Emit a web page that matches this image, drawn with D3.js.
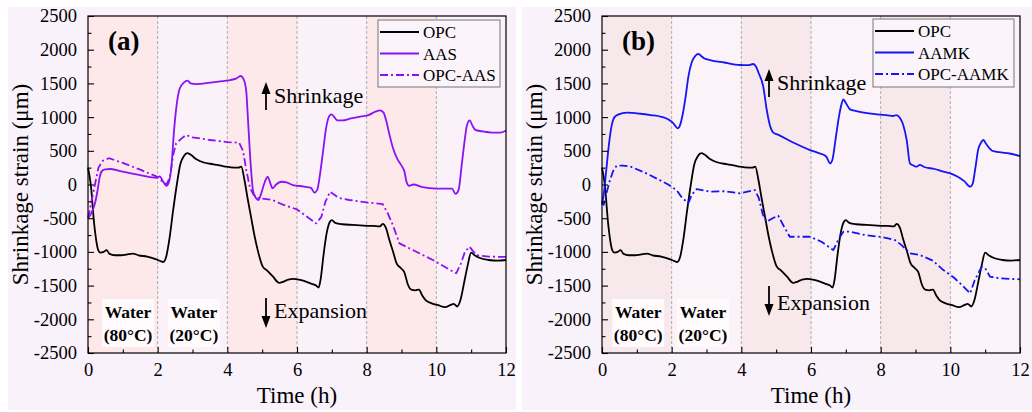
<!DOCTYPE html>
<html><head><meta charset="utf-8">
<script src="https://cdn.jsdelivr.net/npm/d3@7"></script>
<style>
html,body{margin:0;padding:0;background:#ffffff;}
svg{display:block;font-family:"Liberation Serif","Times New Roman",serif;}
</style></head>
<body><svg id="chart" width="1032" height="412"></svg>
<script>
// ---------- data ----------
const xTicks = [0, 2, 4, 6, 8, 10, 12];
const yTicks = [-2500, -2000, -1500, -1000, -500, 0, 500, 1000, 1500, 2000, 2500];
const bandStarts = [0, 2, 4, 6, 8, 10];

const opcT = [0,0.08,0.18,0.3,0.36,0.45,0.53,0.62,0.77,0.95,1.1,1.29,1.45,1.7,1.96,2.1,2.16,2.24,2.34,2.44,2.55,2.65,2.75,2.85,2.95,3.1,3.3,3.6,3.9,4.2,4.32,4.4,4.49,4.58,4.68,4.78,4.87,5.01,5.15,5.3,5.49,5.62,5.75,5.9,6.05,6.2,6.4,6.55,6.62,6.68,6.76,6.86,6.95,7.0,7.1,7.3,7.6,7.9,8.2,8.38,8.46,8.55,8.65,8.76,8.86,8.98,9.08,9.18,9.28,9.4,9.5,9.6,9.7,9.85,10.05,10.25,10.4,10.5,10.6,10.7,10.8,10.9,11.0,11.1,11.25,11.5,11.75,12.0];
const opcV = [250,0,-600,-980,-1010,-1000,-975,-1030,-1050,-1050,-1040,-1025,-1050,-1070,-1110,-1140,-1150,-1080,-800,-400,0,300,420,465,440,380,330,300,270,250,250,265,70,-200,-480,-760,-970,-1210,-1280,-1360,-1460,-1440,-1410,-1400,-1410,-1430,-1470,-1500,-1530,-1400,-1050,-700,-550,-530,-570,-590,-600,-610,-615,-620,-585,-640,-820,-1000,-1170,-1240,-1300,-1480,-1560,-1570,-1560,-1650,-1720,-1760,-1790,-1820,-1790,-1770,-1810,-1700,-1450,-1200,-1010,-1050,-1090,-1120,-1130,-1120];

const aasT = [0,0.1,0.2,0.27,0.34,0.42,0.5,0.65,1.0,1.5,1.96,2.06,2.16,2.25,2.32,2.4,2.47,2.55,2.63,2.75,2.86,2.95,3.1,3.5,3.96,4.25,4.38,4.46,4.54,4.6,4.67,4.74,4.82,4.89,4.98,5.05,5.16,5.22,5.3,5.4,5.55,5.7,5.88,6.2,6.4,6.5,6.58,6.66,6.75,6.84,6.92,6.99,7.07,7.16,7.3,7.55,7.85,8.05,8.25,8.38,8.48,8.56,8.65,8.75,8.88,9.0,9.08,9.15,9.22,9.34,9.6,10.0,10.45,10.55,10.64,10.72,10.8,10.88,10.96,11.04,11.12,11.3,11.6,11.85,12.0];
const aasV = [-500,-420,-280,-100,120,210,225,230,190,140,100,120,40,-20,30,300,800,1200,1420,1510,1540,1500,1490,1510,1540,1570,1610,1570,1400,900,300,-100,-200,-230,-120,0,115,40,-57,0,41,30,-8,-30,-50,-120,-80,150,500,850,1010,1040,1000,950,950,980,1010,1030,1080,1100,1070,950,750,550,380,280,200,30,-20,0,-40,-60,-60,-140,-80,250,600,880,950,870,810,790,770,770,800];

const opcAasT = [0,0.08,0.2,0.3,0.42,0.6,1.0,1.5,1.96,2.1,2.25,2.35,2.45,2.53,2.68,2.81,3.0,3.5,4.0,4.34,4.45,4.55,4.65,4.75,4.87,5.3,5.6,6.0,6.55,6.7,6.82,6.95,7.2,7.5,8.0,8.46,8.6,8.75,8.94,9.9,10.57,10.7,10.82,10.95,11.15,11.5,12.0];
const opcAasV = [-500,-300,0,250,350,390,320,220,120,60,0,100,450,611,680,734,700,660,630,620,500,200,-50,-150,-200,-230,-300,-370,-577,-480,-250,-107,-200,-230,-265,-290,-420,-600,-873,-1120,-1318,-1180,-1000,-923,-1047,-1070,-1075];

const aamkT = [0,0.06,0.12,0.2,0.28,0.36,0.48,0.71,1.1,1.4,1.7,1.92,2.05,2.17,2.24,2.32,2.4,2.48,2.58,2.68,2.77,2.86,2.94,3.1,3.5,3.96,4.2,4.34,4.42,4.5,4.63,4.73,4.82,4.92,5.05,5.5,5.97,6.2,6.43,6.55,6.62,6.7,6.8,6.88,6.93,7.0,7.12,7.3,7.6,7.9,8.2,8.36,8.45,8.55,8.65,8.75,8.84,8.95,9.03,9.12,9.25,9.55,9.8,10.0,10.2,10.4,10.57,10.64,10.72,10.8,10.88,10.95,11.03,11.2,11.4,11.7,12.0];
const aamkV = [-300,-100,200,600,880,1000,1040,1065,1050,1030,1005,960,908,833,880,1050,1300,1600,1820,1910,1936,1900,1870,1847,1810,1773,1770,1788,1750,1650,1451,1105,880,770,740,620,511,470,420,314,380,650,1000,1200,1264,1210,1115,1090,1060,1040,1025,1016,1030,990,880,650,314,280,264,290,260,230,190,165,120,50,-33,10,250,520,620,660,600,501,480,460,422];

const opcAamkT = [0,0.05,0.12,0.22,0.32,0.42,0.6,0.8,1.3,1.9,2.14,2.3,2.48,2.58,2.72,3.1,3.5,3.96,4.39,4.5,4.62,4.73,4.9,5.06,5.22,5.39,5.97,6.3,6.64,6.8,6.93,7.1,7.55,8.03,8.41,8.6,8.84,9.13,9.5,9.8,10.1,10.35,10.57,10.7,10.9,11.0,11.14,11.4,11.7,12.0];
const opcAamkV = [-250,-300,-150,50,200,278,280,270,160,0,-82,-200,-275,-150,-67,-107,-100,-131,-82,-200,-450,-553,-500,-463,-620,-775,-775,-850,-973,-800,-701,-700,-750,-780,-824,-900,-1022,-1047,-1130,-1270,-1380,-1500,-1615,-1420,-1220,-1240,-1368,-1390,-1400,-1407];

// ---------- drawing ----------
const svg = d3.select("#chart");
const W = 418, H = 337, TOP = 16;

const panels = [
  { x0: 88, bg: [8, 516], id: "(a)", bandDark: "#fde9ea", bandLight: "#faf2f8",
    series: [
      { t: opcT, v: opcV, color: "#000000", dash: null, name: "OPC" },
      { t: aasT, v: aasV, color: "#8a12f5", dash: null, name: "AAS" },
      { t: opcAasT, v: opcAasV, color: "#8a12f5", dash: "8,3,2,3", name: "OPC-AAS" }
    ],
    legend: { x: 378, y: 20, w: 122, h: 67 },
    waterX: [1.15, 3.04], arrowX: 266, shrinkY: [82, 110], shrinkBase: 103, expY: [298, 328], expBase: 318
  },
  { x0: 602, bg: [522, 1032], id: "(b)", bandDark: "#f7e8eb", bandLight: "#fbf3f8",
    series: [
      { t: opcT, v: opcV, color: "#000000", dash: null, name: "OPC" },
      { t: aamkT, v: aamkV, color: "#1414f5", dash: null, name: "AAMK" },
      { t: opcAamkT, v: opcAamkV, color: "#1414f5", dash: "8,3,2,3", name: "OPC-AAMK" }
    ],
    legend: { x: 873, y: 19, w: 141, h: 68 },
    waterX: [1.04, 2.9], arrowX: 769, shrinkY: [69, 97], shrinkBase: 90, expY: [286, 316], expBase: 310
  }
];

panels.forEach(p => {
  svg.append("rect").attr("x", p.bg[0]).attr("y", 7).attr("width", p.bg[1] - p.bg[0]).attr("height", 403)
    .attr("fill", "#f9f2fa");

  const x = d3.scaleLinear().domain([0, 12]).range([p.x0, p.x0 + W]);
  const y = d3.scaleLinear().domain([-2500, 2500]).range([TOP + H, TOP]);
  const g = svg.append("g");

  g.selectAll("rect.band").data(bandStarts).join("rect")
    .attr("x", d => x(d)).attr("y", TOP)
    .attr("width", d => x(d + 2) - x(d)).attr("height", H)
    .attr("fill", (d, i) => i % 2 === 0 ? p.bandDark : p.bandLight);

  g.selectAll("line.grid").data([2, 4, 6, 8, 10]).join("line")
    .attr("x1", d => x(d)).attr("x2", d => x(d)).attr("y1", TOP).attr("y2", TOP + H)
    .attr("stroke", "#9a9a9a").attr("stroke-width", 0.8).attr("stroke-dasharray", "3,2");

  const waterTxt = ["(80°C)", "(20°C)"];
  p.waterX.forEach((wx, i) => {
    const cx = x(wx);
    g.append("rect").attr("x", cx - 26).attr("y", 299).attr("width", 52).attr("height", 48)
      .attr("fill", "#fffafc");
    g.append("text").attr("x", cx).attr("y", 318).attr("text-anchor", "middle")
      .attr("font-size", 17.5).attr("font-weight", "bold").text("Water");
    g.append("text").attr("x", cx).attr("y", 341).attr("text-anchor", "middle")
      .attr("font-size", 17.5).attr("font-weight", "bold").text(waterTxt[i]);
  });

  p.series.forEach(s => {
    const pts = s.t.map((t, i) => [t, s.v[i]]);
    const line = d3.line().x(d => x(d[0])).y(d => y(d[1]))
      .curve(s.dash ? d3.curveLinear : d3.curveMonotoneX);
    g.append("path").datum(pts).attr("d", line).attr("fill", "none")
      .attr("stroke", s.color).attr("stroke-width", 1.8)
      .attr("stroke-linejoin", "round")
      .attr("stroke-dasharray", s.dash);
  });

  g.append("rect").attr("x", p.x0).attr("y", TOP).attr("width", W).attr("height", H)
    .attr("fill", "none").attr("stroke", "#000").attr("stroke-width", 1.2);

  const xAxis = d3.axisBottom(x).tickValues(xTicks).tickSize(-6).tickPadding(10).tickFormat(d3.format("d"));
  const xMinor = d3.axisBottom(x).tickValues([1, 3, 5, 7, 9, 11]).tickSize(-3.5).tickFormat("");
  const yAxis = d3.axisLeft(y).tickValues(yTicks).tickSize(-6).tickPadding(11).tickFormat(d => d3.format("d")(d).replace("−", "-"));
  const yMinor = d3.axisLeft(y).tickValues(d3.range(-2250, 2500, 500)).tickSize(-3.5).tickFormat("");

  [[xAxis, "x"], [xMinor, "x"], [yAxis, "y"], [yMinor, "y"]].forEach(([ax, k]) => {
    const ag = g.append("g")
      .attr("transform", k === "x" ? `translate(0,${TOP + H})` : `translate(${p.x0},0)`)
      .call(ax);
    ag.select(".domain").remove();
    ag.selectAll("line").attr("stroke", "#000").attr("stroke-width", 1.1);
    ag.selectAll("text").attr("font-family", "'Liberation Serif','Times New Roman',serif")
      .attr("font-size", 18.5).attr("fill", "#000");
  });

  g.append("text").attr("x", p.x0 + W / 2).attr("y", 403).attr("text-anchor", "middle")
    .attr("font-size", 23).text("Time (h)");
  g.append("text").attr("transform", `translate(${p.x0 - 60},${TOP + H / 2}) rotate(-90)`)
    .attr("text-anchor", "middle").attr("font-size", 23).text("Shrinkage strain (μm)");

  g.append("text").attr("x", p.x0 + 20).attr("y", 50).attr("font-size", 27).attr("font-weight", "bold")
    .text(p.id);

  const ax = p.arrowX;
  g.append("line").attr("x1", ax).attr("x2", ax).attr("y1", p.shrinkY[1]).attr("y2", p.shrinkY[0] + 8)
    .attr("stroke", "#000").attr("stroke-width", 1.8);
  g.append("path").attr("d", `M${ax - 4.5},${p.shrinkY[0] + 12} L${ax},${p.shrinkY[0]} L${ax + 4.5},${p.shrinkY[0] + 12} Z`).attr("fill", "#000");
  g.append("text").attr("x", ax + 8).attr("y", p.shrinkBase).attr("font-size", 22).text("Shrinkage");

  g.append("line").attr("x1", ax).attr("x2", ax).attr("y1", p.expY[0]).attr("y2", p.expY[1] - 8)
    .attr("stroke", "#000").attr("stroke-width", 1.8);
  g.append("path").attr("d", `M${ax - 4.5},${p.expY[1] - 12} L${ax},${p.expY[1]} L${ax + 4.5},${p.expY[1] - 12} Z`).attr("fill", "#000");
  g.append("text").attr("x", ax + 8).attr("y", p.expBase).attr("font-size", 22).text("Expansion");

  const L = p.legend;
  g.append("rect").attr("x", L.x).attr("y", L.y).attr("width", L.w).attr("height", L.h)
    .attr("fill", "#fbf4fb").attr("stroke", "#777").attr("stroke-width", 1);
  p.series.forEach((s, i) => {
    const ly = L.y + 12 + i * 21.5;
    g.append("line").attr("x1", L.x + 2).attr("x2", L.x + 41).attr("y1", ly).attr("y2", ly)
      .attr("stroke", s.color).attr("stroke-width", 1.8).attr("stroke-dasharray", s.dash);
    g.append("text").attr("x", L.x + 45).attr("y", ly + 6).attr("font-size", 17).text(s.name);
  });
});
</script></body></html>
